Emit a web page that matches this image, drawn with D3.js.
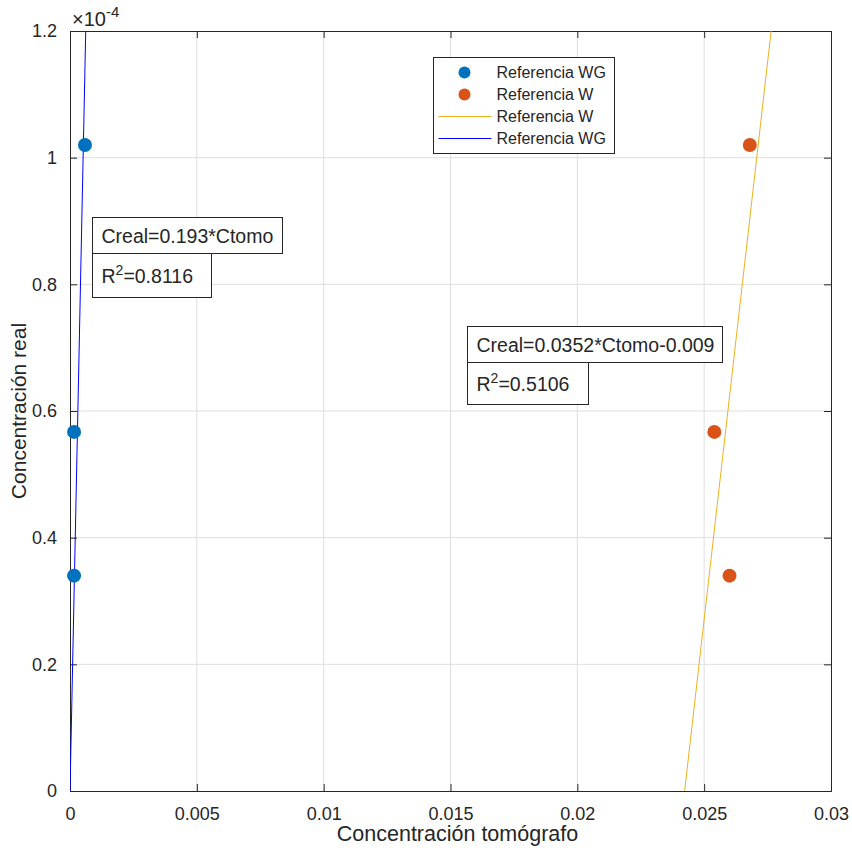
<!DOCTYPE html>
<html>
<head>
<meta charset="utf-8">
<script src="https://cdn.jsdelivr.net/npm/d3@7"></script>
<style>
  body { margin: 0; background: #fff; }
  svg text { font-family: "Liberation Sans", Arial, sans-serif; fill: #262626; }
</style>
</head>
<body>
<div id="chart"></div>
<script>
// Data
const wgX = [0.00016, 0.00016, 0.00059];
const wgY = [0.34e-4, 0.567e-4, 1.02e-4];
const wX = [0.0260, 0.0254, 0.0268];
const wY = [0.34e-4, 0.567e-4, 1.02e-4];
// fitted lines, endpoints at the axis limits
const wgLineX = [0, 0.00062];
const wgLineY = [0, 1.2e-4];
const wLineX = [0.02423, 0.02764];
const wLineY = [0, 1.2e-4];
const xTicks = [0, 0.005, 0.01, 0.015, 0.02, 0.025, 0.03];
const yTicks = [0, 0.2e-4, 0.4e-4, 0.6e-4, 0.8e-4, 1.0e-4, 1.2e-4];
const yTickLabels = ["0", "0.2", "0.4", "0.6", "0.8", "1", "1.2"];
const legendItems = [
  { label: "Referencia WG", type: "dot", color: "#0072BD" },
  { label: "Referencia W", type: "dot", color: "#D95319" },
  { label: "Referencia W", type: "line", color: "#EDB120" },
  { label: "Referencia WG", type: "line", color: "#0000FF" }
];

const width = 852, height = 850;
const margin = { top: 31, right: 21, bottom: 59, left: 70 };
const iw = width - margin.left - margin.right;
const ih = height - margin.top - margin.bottom;

const svg = d3.select("#chart").append("svg")
    .attr("width", width)
    .attr("height", height);

const g = svg.append("g")
    .attr("transform", `translate(${margin.left},${margin.top})`);

const x = d3.scaleLinear().domain([0, 0.03]).range([0, iw]);
const y = d3.scaleLinear().domain([0, 1.2e-4]).range([ih, 0]);

// grid
g.append("g").selectAll("line").data(xTicks.slice(1, -1)).enter().append("line")
    .attr("x1", d => x(d)).attr("x2", d => x(d))
    .attr("y1", 0).attr("y2", ih)
    .attr("stroke", "#dfdfdf").attr("stroke-width", 1);
g.append("g").selectAll("line").data(yTicks.slice(1, -1)).enter().append("line")
    .attr("y1", d => y(d)).attr("y2", d => y(d))
    .attr("x1", 0).attr("x2", iw)
    .attr("stroke", "#dfdfdf").attr("stroke-width", 1);

// axes
const xAxis = g.append("g")
    .attr("transform", `translate(0,${ih})`)
    .call(d3.axisBottom(x).tickValues(xTicks).tickSize(-7).tickPadding(16)
        .tickFormat(d => d === 0 ? "0" : String(+d.toFixed(3))));
const yAxis = g.append("g")
    .call(d3.axisLeft(y).tickValues(yTicks).tickSize(-7).tickPadding(13)
        .tickFormat((d, i) => yTickLabels[i]));
const xTop = g.append("g")
    .call(d3.axisTop(x).tickValues(xTicks).tickSize(-7).tickFormat(""));
const yRight = g.append("g")
    .attr("transform", `translate(${iw},0)`)
    .call(d3.axisRight(y).tickValues(yTicks).tickSize(-7).tickFormat(""));

[xAxis, yAxis, xTop, yRight].forEach(a => {
  a.selectAll("path, line").attr("stroke", "#262626");
  a.selectAll("text").style("font-size", "18px").attr("fill", "#262626");
});

// exponent
svg.append("text")
    .attr("x", margin.left + 2).attr("y", 26)
    .style("font-size", "20px")
    .text("\u00D710")
  .append("tspan")
    .attr("dy", -9).style("font-size", "15px")
    .text("-4");

// lines, clipped to the plot area
g.append("clipPath").attr("id", "clip")
  .append("rect").attr("width", iw).attr("height", ih);
const line = d3.line().x(d => x(d[0])).y(d => y(d[1]));
const plot = g.append("g").attr("clip-path", "url(#clip)");
plot.append("path")
    .datum(wgLineX.map((v, i) => [v, wgLineY[i]]))
    .attr("d", line).attr("fill", "none")
    .attr("stroke", "#0000FF").attr("stroke-width", 1);
plot.append("path")
    .datum(wLineX.map((v, i) => [v, wLineY[i]]))
    .attr("d", line).attr("fill", "none")
    .attr("stroke", "#EDB120").attr("stroke-width", 1);

// points
g.selectAll(".wg").data(wgX.map((v, i) => [v, wgY[i]])).enter().append("circle")
    .attr("class", "wg")
    .attr("cx", d => x(d[0])).attr("cy", d => y(d[1])).attr("r", 7)
    .attr("fill", "#0072BD");
g.selectAll(".w").data(wX.map((v, i) => [v, wY[i]])).enter().append("circle")
    .attr("class", "w")
    .attr("cx", d => x(d[0])).attr("cy", d => y(d[1])).attr("r", 7)
    .attr("fill", "#D95319");

// axis labels
svg.append("text")
    .attr("x", margin.left + iw / 2 + 7).attr("y", 841)
    .attr("text-anchor", "middle")
    .style("font-size", "21.5px")
    .text("Concentración tomógrafo");
svg.append("text")
    .attr("transform", `translate(26,${margin.top + ih / 2}) rotate(-90)`)
    .attr("text-anchor", "middle")
    .style("font-size", "21px")
    .text("Concentración real");

// text boxes
function textBox(bx, by, bw, bh, parts) {
  const tb = svg.append("g");
  tb.append("rect")
      .attr("x", bx).attr("y", by).attr("width", bw).attr("height", bh)
      .attr("fill", "#fff").attr("stroke", "#262626").attr("stroke-width", 1);
  const t = tb.append("text")
      .attr("x", bx + 9).attr("y", by + bh / 2 + 7)
      .style("font-size", "19.5px").attr("fill", "#000");
  parts.forEach(p => {
    const s = t.append("tspan").text(p.t);
    if (p.sup) s.attr("dy", -8).style("font-size", "14px");
    if (p.down) s.attr("dy", 8);
  });
}
textBox(92.5, 217.5, 190, 36, [{ t: "Creal=0.193*Ctomo" }]);
textBox(92.5, 253.5, 119, 44, [{ t: "R" }, { t: "2", sup: true }, { t: "=0.8116", down: true }]);
textBox(467.5, 326.5, 255, 36, [{ t: "Creal=0.0352*Ctomo-0.009" }]);
textBox(467.5, 362.5, 121, 42, [{ t: "R" }, { t: "2", sup: true }, { t: "=0.5106", down: true }]);

// legend
const lg = svg.append("g").attr("transform", "translate(433.5,57.5)");
lg.append("rect").attr("width", 181).attr("height", 96)
    .attr("fill", "#fff").attr("stroke", "#262626").attr("stroke-width", 1);
const rows = lg.selectAll(".row").data(legendItems).enter().append("g")
    .attr("transform", (d, i) => `translate(0,${15 + i * 22})`);
rows.filter(d => d.type === "dot").append("circle")
    .attr("cx", 31).attr("cy", 0).attr("r", 6)
    .attr("fill", d => d.color);
rows.filter(d => d.type === "line").append("line")
    .attr("x1", 5).attr("x2", 58).attr("y1", 0).attr("y2", 0)
    .attr("stroke", d => d.color).attr("stroke-width", 1);
rows.append("text")
    .attr("x", 63).attr("y", 5.5)
    .style("font-size", "16px").attr("fill", "#000")
    .text(d => d.label);
</script>
</body>
</html>
